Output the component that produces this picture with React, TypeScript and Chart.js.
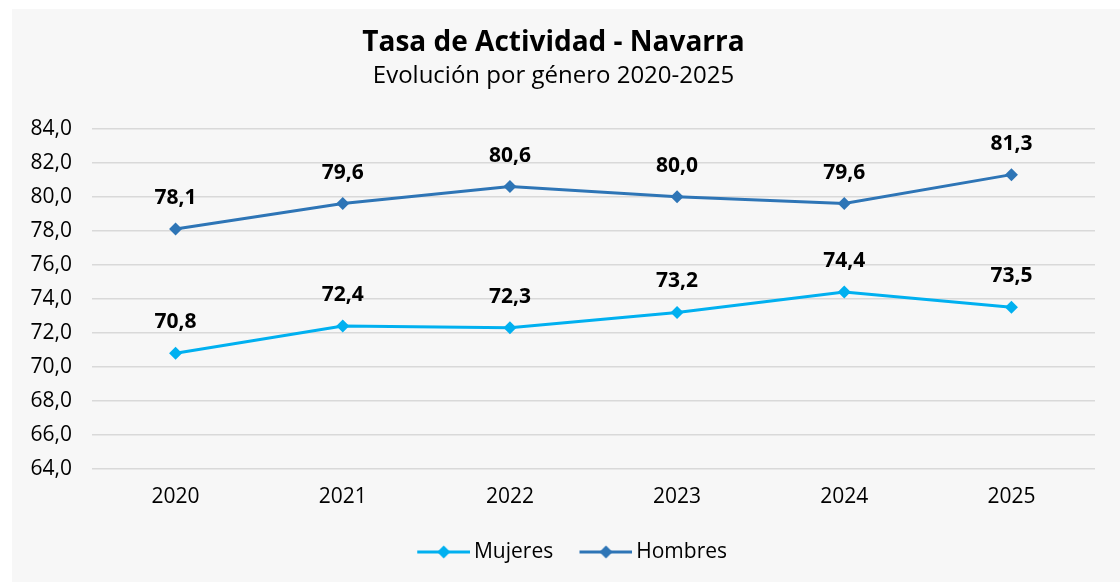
import React, { useEffect, useRef } from "react";
import { Chart, registerables } from "chart.js";

Chart.register(...registerables);

const categories = ["2020", "2021", "2022", "2023", "2024", "2025"];
const mujeres = [70.8, 72.4, 72.3, 73.2, 74.4, 73.5];
const hombres = [78.1, 79.6, 80.6, 80.0, 79.6, 81.3];
const seriesNames = ["Mujeres", "Hombres"];
const seriesColors = ["#00b0f0", "#2e75b6"];
const yMin = 64;
const yMax = 84;
const yStep = 2;
const titleText = "Tasa de Actividad - Navarra";
const subtitleText = "Evolución por género 2020-2025";

const FONT = "'Open Sans', 'Noto Sans', sans-serif";

const fmt = (v: number) => v.toFixed(1).replace(".", ",");

function legendIcon(color: string): HTMLCanvasElement {
  const c = document.createElement("canvas");
  c.width = 60;
  c.height = 16;
  const g = c.getContext("2d")!;
  g.strokeStyle = color;
  g.lineWidth = 3;
  g.beginPath();
  g.moveTo(7, 8);
  g.lineTo(60, 8);
  g.stroke();
  g.fillStyle = color;
  g.beginPath();
  g.moveTo(33.5, 1.5);
  g.lineTo(40, 8);
  g.lineTo(33.5, 14.5);
  g.lineTo(27, 8);
  g.closePath();
  g.fill();
  return c;
}

const dataLabels = {
  id: "dataLabels",
  afterDatasetsDraw(chart: any) {
    const ctx = chart.ctx;
    ctx.save();
    ctx.font = `bold 21px ${FONT}`;
    ctx.fillStyle = "#000";
    ctx.textAlign = "center";
    ctx.textBaseline = "middle";
    chart.data.datasets.forEach((ds: any, i: number) => {
      const meta = chart.getDatasetMeta(i);
      meta.data.forEach((pt: any, j: number) => {
        ctx.fillText(fmt(ds.data[j] as number), pt.x, pt.y - 31);
      });
    });
    ctx.restore();
  },
};

const legendShift = {
  id: "legendShift",
  afterLayout(chart: any) {
    const l = chart.legend;
    if (l) {
      l.left += 18.5;
      l.right += 18.5;
    }
  },
};

export default function App() {
  const ref = useRef<HTMLCanvasElement>(null);

  useEffect(() => {
    if (!ref.current) return;
    const icons = seriesColors.map(legendIcon);
    const mkDs = (label: string, data: number[], color: string) => ({
      label,
      data,
      borderColor: color,
      backgroundColor: color,
      borderWidth: 3,
      pointStyle: "rectRot" as const,
      pointRadius: 6.5,
      pointBorderWidth: 0,
      pointBackgroundColor: color,
      tension: 0,
    });
    const chart = new Chart(ref.current, {
      type: "line",
      data: {
        labels: categories,
        datasets: [
          mkDs(seriesNames[0], mujeres, seriesColors[0]),
          mkDs(seriesNames[1], hombres, seriesColors[1]),
        ],
      },
      options: {
        animation: false,
        responsive: false,
        maintainAspectRatio: false,
        layout: { padding: { left: 0, right: 25, top: 0, bottom: 9.5 } },
        scales: {
          x: {
            offset: true,
            grid: { display: false, drawTicks: false },
            border: { display: false },
            ticks: { color: "#000", font: { family: FONT, size: 21 }, padding: 15 },
            afterFit(scale: any) {
              scale.height = 46.5;
            },
          },
          y: {
            min: yMin,
            max: yMax,
            ticks: {
              stepSize: yStep,
              color: "#000",
              font: { family: FONT, size: 21 },
              padding: 20,
              callback: (v: any) => fmt(Number(v)),
            },
            grid: { color: "#d9d9d9", lineWidth: 1.5, drawTicks: false },
            border: { display: false },
            afterFit(scale: any) {
              scale.width = 80;
            },
          },
        },
        plugins: {
          title: {
            display: true,
            text: titleText,
            color: "#000",
            font: { family: FONT, size: 28, weight: "bold" },
            padding: { top: 17, bottom: 2 },
          },
          subtitle: {
            display: true,
            text: subtitleText,
            color: "#000",
            font: { family: FONT, size: 24 },
            padding: { top: 0, bottom: 38.3 },
          },
          legend: {
            position: "bottom",
            labels: {
              usePointStyle: true,
              pointStyleWidth: 46.5,
              padding: 26,
              color: "#000",
              font: { family: FONT, size: 21 },
              generateLabels(chart: any) {
                const items = Chart.defaults.plugins.legend.labels.generateLabels(chart);
                items.forEach((it: any, i: number) => {
                  it.pointStyle = icons[i];
                });
                return items;
              },
            },
          },
          tooltip: { enabled: false },
        },
      },
      plugins: [dataLabels, legendShift],
    });
    return () => chart.destroy();
  }, []);

  return (
    <div
      style={{
        position: "fixed",
        left: 12,
        top: 9,
        width: 1108,
        height: 573,
        background: "#f7f7f7",
      }}
    >
      <canvas ref={ref} width={1108} height={573} style={{ display: "block" }} />
    </div>
  );
}
